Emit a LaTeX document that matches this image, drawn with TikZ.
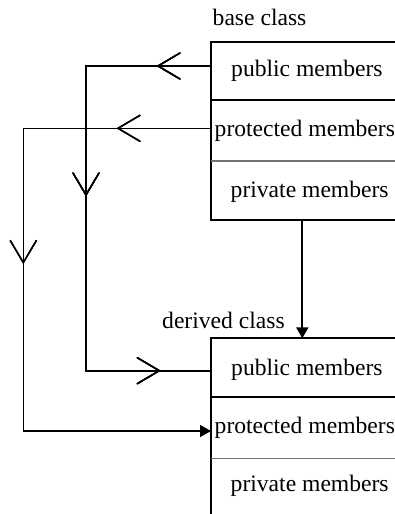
\documentclass[tikz,border=0pt]{standalone}
\usepackage{fontspec}
\setmainfont{Liberation Serif}
\usetikzlibrary{decorations.markings,arrows.meta}
\begin{document}
\begin{tikzpicture}[x=1pt,y=-1pt,
  lbl/.style={font=\fontsize{23.6}{28}\selectfont, inner sep=0pt, anchor=base west},
  comp/.style={rectangle, inner sep=0pt, outer sep=0pt, minimum width=229pt, anchor=north west},
  boxline/.style={line width=2pt, line cap=rect},
  lightdiv/.style={line width=1.2pt, draw=black!55},
  conn/.style={line width=2pt, line join=miter},
  conn2/.style={line width=1.5pt, line join=miter},
  chevron/.style={decoration={markings, mark=at position #1 with {\draw[-, line width=1.5pt, line cap=round] (-22,13) -- (0,0) -- (-22,-13);}}, postaction={decorate}},
  tip/.style={-{Triangle[length=11pt,width=12pt]}},
]
\useasboundingbox (0,0) rectangle (395,514);

% base class box
\node[comp, minimum height=58.3pt] (bpub) at (211,41.7) {};
\node[comp, minimum height=61pt, anchor=north west] (bprot) at (bpub.south west) {};
\node[comp, minimum height=59pt, anchor=north west] (bpriv) at (bprot.south west) {};
\draw[boxline] (bpub.north west) rectangle (bpriv.south east);
\draw[line width=2pt] (bpub.south west) -- (bpub.south east);
\draw[lightdiv] (bprot.south west) -- (bprot.south east);
\node[lbl] (tbase) at (212.5,25) {base class};
\node[lbl] (tbpub) at (231,76.7) {public members};
\node[lbl] (tbprot) at (214.5,136.7) {protected members};
\node[lbl] (tbpriv) at (230.5,197.3) {private members};

% derived class box
\node[comp, minimum height=58.4pt] (dpub) at (211,338.3) {};
\node[comp, minimum height=61.6pt, anchor=north west] (dprot) at (dpub.south west) {};
\node[comp, minimum height=80pt, anchor=north west] (dpriv) at (dprot.south west) {};
\draw[boxline] (dpub.north west) rectangle (dpriv.south east);
\draw[line width=2pt] (dpub.south west) -- (dpub.south east);
\draw[lightdiv] (dprot.south west) -- (dprot.south east);
\node[lbl] (tderived) at (162,328) {derived class};
\node[lbl] (tdpub) at (231,375) {public members};
\node[lbl] (tdprot) at (214.5,433.3) {protected members};
\node[lbl] (tdpriv) at (230.5,491.7) {private members};

% connection points
\coordinate (bpubout) at (211,66);
\coordinate (bprotout) at (211,128.3);
\coordinate (dpubin) at (211,370.7);
\coordinate (dprotin) at (211,431);
\coordinate (bbottom) at (302.3,220);
\coordinate (dtop) at (302.3,338.3);

% public -> public
\draw[conn, chevron=53pt, chevron=254pt, chevron=503pt]
  (bpubout) -- (86,66) -- (86,370.7) -- (dpubin);
% protected -> protected
\draw[conn2, tip, chevron=93pt, chevron=322pt]
  (bprotout) -- (23.3,128.3) -- (23.3,431) -- (dprotin);
% base -> derived
\draw[conn, tip] (bbottom) -- (dtop);
\end{tikzpicture}
\end{document}
